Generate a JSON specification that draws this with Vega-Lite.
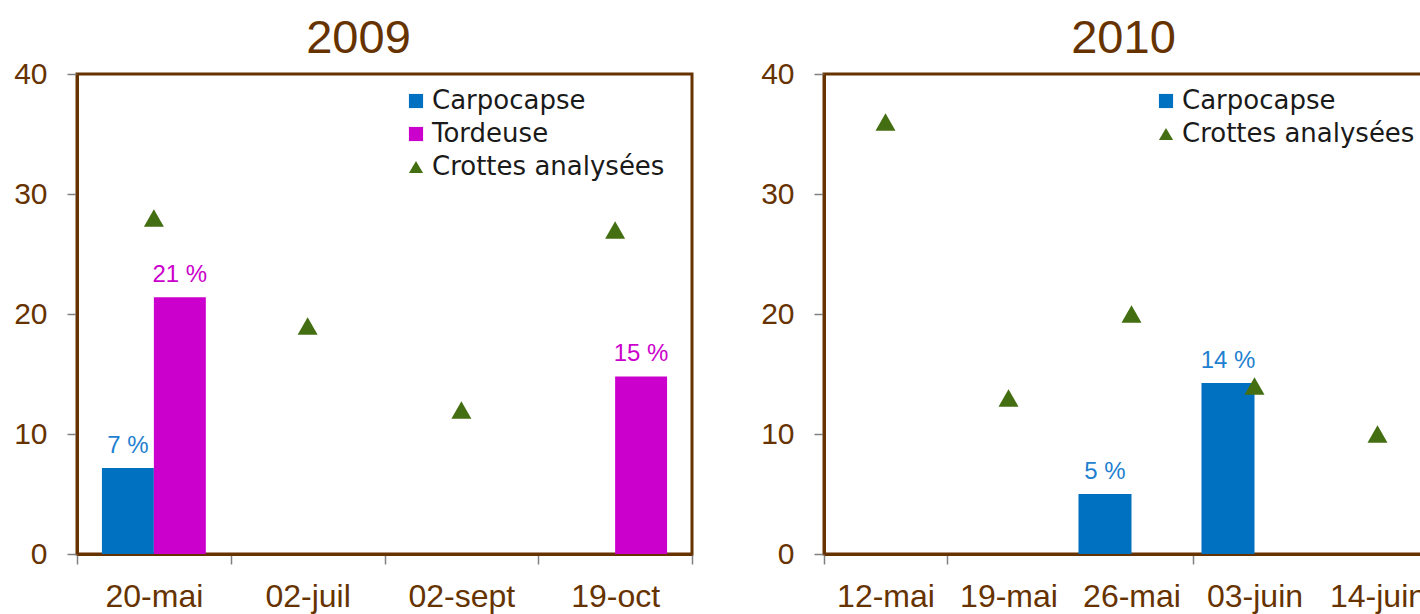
{
  "$schema": "https://vega.github.io/schema/vega-lite/v6.json",
  "background": "white",
  "padding": {"left": 12, "top": 13, "right": 0, "bottom": 0},
  "config": {
    "font": "Liberation Sans",
    "view": {"stroke": "#663300", "strokeWidth": 3},
    "axis": {"domainColor": "#663300", "domainWidth": 3, "tickColor": "#808080", "tickWidth": 1.5, "tickSize": 10, "labelColor": "#663300", "labelFont": "Liberation Sans", "labelFontSize": 30, "grid": false, "title": null},
    "axisX": {"labelFontSize": 32, "labelPadding": 17},
    "axisY": {"labelPadding": 20},
    "title": {"fontSize": 47, "color": "#663300", "font": "Liberation Sans", "fontWeight": "normal", "anchor": "middle", "offset": -4},
    "legend": {"title": null, "labelFont": "DejaVu Sans", "labelFontSize": 26, "labelColor": "#1a1a1a", "labelLimit": 400, "symbolSize": 200, "rowPadding": 7, "labelOffset": 3, "symbolStrokeWidth": 0}
  },
  "datasets": {
    "bars2009": [
      {"date": "20-mai", "serie": "Carpocapse", "value": 7.17, "label": "7 %"},
      {"date": "20-mai", "serie": "Tordeuse", "value": 21.4, "label": "21 %"},
      {"date": "19-oct", "serie": "Tordeuse", "value": 14.8, "label": "15 %"}
    ],
    "pts2009": [
      {"date": "20-mai", "serie": "Crottes analysées", "value": 28},
      {"date": "02-juil", "serie": "Crottes analysées", "value": 19},
      {"date": "02-sept", "serie": "Crottes analysées", "value": 12},
      {"date": "19-oct", "serie": "Crottes analysées", "value": 27}
    ],
    "bars2010": [
      {"date": "26-mai", "serie": "Carpocapse", "value": 5.0, "label": "5 %"},
      {"date": "03-juin", "serie": "Carpocapse", "value": 14.25, "label": "14 %"}
    ],
    "pts2010": [
      {"date": "12-mai", "serie": "Crottes analysées", "value": 36},
      {"date": "19-mai", "serie": "Crottes analysées", "value": 13},
      {"date": "26-mai", "serie": "Crottes analysées", "value": 20},
      {"date": "03-juin", "serie": "Crottes analysées", "value": 14},
      {"date": "14-juin", "serie": "Crottes analysées", "value": 10}
    ]
  },
  "spacing": 64,
  "hconcat": [
    {
      "width": 615,
      "height": 480,
      "title": {"text": "2009", "dx": -26},
      "layer": [
        {
          "data": {"name": "bars2009"},
          "mark": {"type": "bar"},
          "encoding": {
            "x": {"field": "date", "type": "nominal", "scale": {"domain": ["20-mai", "02-juil", "02-sept", "19-oct"], "paddingInner": 0, "paddingOuter": 0}, "axis": {"tickBand": "extent", "labelAngle": 0}},
            "xOffset": {"field": "serie", "scale": {"domain": ["Carpocapse", "Tordeuse"], "paddingOuter": 0.48, "paddingInner": 0}},
            "y": {"field": "value", "type": "quantitative", "scale": {"domain": [0, 40], "nice": false}, "axis": {"values": [0, 10, 20, 30, 40]}},
            "color": {"field": "serie", "type": "nominal", "scale": {"domain": ["Carpocapse", "Tordeuse", "Crottes analysées"], "range": ["#0070C0", "#CC00CC", "#446E12"]}, "legend": {"orient": "none", "legendX": 326, "legendY": 14}}
          }
        },
        {
          "data": {"name": "bars2009"},
          "mark": {"type": "text", "fontSize": 24, "baseline": "middle", "dy": -22},
          "encoding": {
            "x": {"field": "date", "type": "nominal"},
            "xOffset": {"field": "serie"},
            "y": {"field": "value", "type": "quantitative"},
            "text": {"field": "label"},
            "color": {"condition": {"test": "datum.serie === 'Tordeuse'", "value": "#CC00CC"}, "value": "#1F7FD0"}
          }
        },
        {
          "data": {"name": "pts2009"},
          "mark": {"type": "point", "filled": true, "opacity": 1, "size": 400},
          "encoding": {
            "x": {"field": "date", "type": "nominal"},
            "y": {"field": "value", "type": "quantitative"},
            "color": {"field": "serie", "type": "nominal"},
            "shape": {"field": "serie", "type": "nominal", "scale": {"domain": ["Carpocapse", "Tordeuse", "Crottes analysées"], "range": ["square", "square", "triangle-up"]}, "legend": {"orient": "none", "legendX": 326, "legendY": 14}}
          }
        }
      ]
    },
    {
      "width": 615,
      "height": 480,
      "title": {"text": "2010", "dx": -8},
      "layer": [
        {
          "data": {"name": "bars2010"},
          "mark": {"type": "bar"},
          "encoding": {
            "x": {"field": "date", "type": "nominal", "scale": {"domain": ["12-mai", "19-mai", "26-mai", "03-juin", "14-juin"], "paddingInner": 0, "paddingOuter": 0}, "axis": {"tickBand": "extent", "labelAngle": 0, "tickColor": {"condition": {"test": "datum.value === '19-mai' || datum.value === '03-juin'", "value": "transparent"}, "value": "#808080"}}},
            "xOffset": {"field": "serie", "scale": {"domain": ["Carpocapse", "Tordeuse"], "paddingOuter": 0.16, "paddingInner": 0}},
            "y": {"field": "value", "type": "quantitative", "scale": {"domain": [0, 40], "nice": false}, "axis": {"values": [0, 10, 20, 30, 40]}},
            "color": {"field": "serie", "type": "nominal", "scale": {"domain": ["Carpocapse", "Crottes analysées"], "range": ["#0070C0", "#446E12"]}, "legend": {"orient": "none", "legendX": 329, "legendY": 14}}
          }
        },
        {
          "data": {"name": "bars2010"},
          "mark": {"type": "text", "fontSize": 24, "baseline": "middle", "dy": -22, "color": "#1F7FD0"},
          "encoding": {
            "x": {"field": "date", "type": "nominal", "axis": {"tickBand": "extent", "labelAngle": 0, "tickColor": {"condition": {"test": "datum.value === '19-mai' || datum.value === '03-juin'", "value": "transparent"}, "value": "#808080"}}},
            "xOffset": {"field": "serie"},
            "y": {"field": "value", "type": "quantitative"},
            "text": {"field": "label"}
          }
        },
        {
          "data": {"name": "pts2010"},
          "mark": {"type": "point", "filled": true, "opacity": 1, "size": 400},
          "encoding": {
            "x": {"field": "date", "type": "nominal", "axis": {"tickBand": "extent", "labelAngle": 0, "tickColor": {"condition": {"test": "datum.value === '19-mai' || datum.value === '03-juin'", "value": "transparent"}, "value": "#808080"}}},
            "y": {"field": "value", "type": "quantitative"},
            "color": {"field": "serie", "type": "nominal"},
            "shape": {"field": "serie", "type": "nominal", "scale": {"domain": ["Carpocapse", "Crottes analysées"], "range": ["square", "triangle-up"]}, "legend": {"orient": "none", "legendX": 329, "legendY": 14}}
          }
        }
      ]
    }
  ],
  "resolve": {
    "scale": {"color": "independent", "shape": "independent", "x": "independent", "y": "independent", "xOffset": "independent"},
    "legend": {"color": "independent", "shape": "independent"}
  }
}
